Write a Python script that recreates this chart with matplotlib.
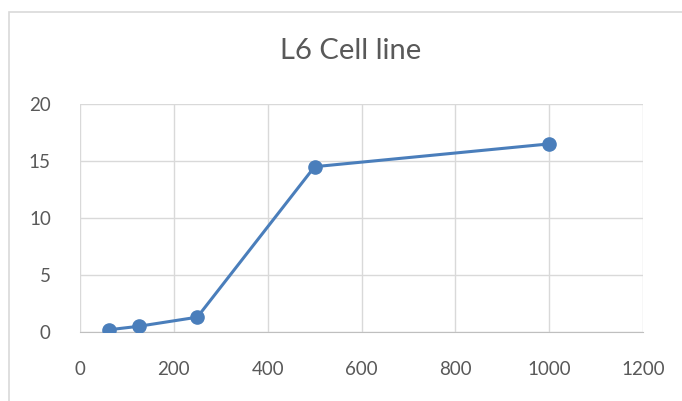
import matplotlib.pyplot as plt
from matplotlib.patches import Rectangle

# データ
concentration = [62.5, 125, 250, 500, 1000]
response = [0.2, 0.5, 1.3, 14.5, 16.5]
x_ticks = [0, 200, 400, 600, 800, 1000, 1200]
y_ticks = [0, 5, 10, 15, 20]

W, H = 682, 401
fig = plt.figure(figsize=(W / 100, H / 100), dpi=100)
plt.rcParams['font.family'] = ['Lato', 'DejaVu Sans']

# 外枠
fig.patches.append(Rectangle((9 / W, -0.1), 1.2, (H - 12) / H + 0.1,
                             transform=fig.transFigure, fill=False,
                             edgecolor='#d9d9d9', linewidth=1.2))

ax = fig.add_axes([80 / W, (H - 332) / H, (643 - 80) / W, (332 - 104) / H])
ax.plot(concentration, response, color='#4a7ebb', linewidth=2.2,
        marker='o', markersize=9.5, zorder=3)

ax.set_xlim(0, 1200)
ax.set_ylim(0, 20)
ax.set_xticks(x_ticks)
ax.set_yticks(y_ticks)
ax.grid(True, color='#d9d9d9', linewidth=1)
for side in ['top', 'right', 'left']:
    ax.spines[side].set_visible(False)
ax.spines['bottom'].set_color('#bfbfbf')
ax.tick_params(length=0, labelsize=13.5, labelcolor='#595959')
ax.tick_params(axis='x', pad=21)
ax.tick_params(axis='y', pad=21)

fig.text(351 / W, (H - 51) / H, 'L6 Cell line', ha='center', va='center',
         fontsize=21, color='#595959')

fig.savefig('out.png', dpi=100)
